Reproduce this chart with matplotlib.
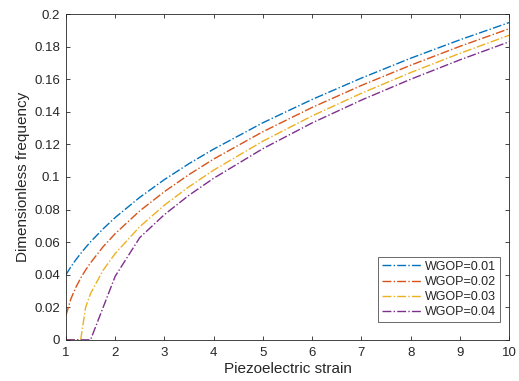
import matplotlib
matplotlib.use("Agg")
import matplotlib.pyplot as plt
from matplotlib.ticker import FuncFormatter

plt.rcParams['font.family'] = ['Liberation Sans', 'DejaVu Sans']

strain_full = [1, 1.1, 1.2, 1.3, 1.4, 1.5, 1.75, 2, 2.5, 3, 3.5, 4, 5, 6, 7, 8, 9, 10]
wgop001 = [0.040, 0.0448, 0.0491, 0.0530, 0.0567, 0.0602, 0.0680, 0.0751, 0.0875, 0.0984,
           0.1082, 0.1171, 0.1333, 0.1476, 0.1607, 0.1729, 0.1842, 0.1948]
wgop002 = [0.015, 0.0251, 0.0321, 0.0379, 0.0429, 0.0473, 0.0570, 0.0652, 0.0792, 0.0910,
           0.1015, 0.1110, 0.1278, 0.1427, 0.1562, 0.1686, 0.1802, 0.1910]
wgop003 = [0.0, 0.0, 0.0, 0.0, 0.0200, 0.0284, 0.0425, 0.0530, 0.0695, 0.0827,
           0.0940, 0.1042, 0.1220, 0.1375, 0.1514, 0.1641, 0.1759, 0.1870]
strain_p = [1, 1.5, 2, 2.5, 3, 3.5, 4, 5, 6, 7, 8, 9, 10]
wgop004 = [0.0, 0.0, 0.039, 0.0628, 0.0769, 0.0888, 0.0992, 0.1174, 0.1332, 0.1472,
           0.1600, 0.1719, 0.1830]

labels = ['WGOP=0.01', 'WGOP=0.02', 'WGOP=0.03', 'WGOP=0.04']
colors = ['#0072BD', '#D95319', '#EDB120', '#7E2F8E']

fig = plt.figure(figsize=(5.19, 3.81), dpi=100)
ax = fig.add_axes([0.127, 0.108, 0.854, 0.855])

series = [(strain_full, wgop001), (strain_full, wgop002), (strain_full, wgop003), (strain_p, wgop004)]
for (xs, ys), c, lab in zip(series, colors, labels):
    ax.plot(xs, ys, linestyle='-.', color=c, lw=1.0, label=lab)

ax.set_xlim(1, 10)
ax.set_ylim(0, 0.2)
ax.set_xticks(range(1, 11))
ax.set_yticks([0, 0.02, 0.04, 0.06, 0.08, 0.1, 0.12, 0.14, 0.16, 0.18, 0.2])
ax.yaxis.set_major_formatter(FuncFormatter(lambda v, p: ('%g' % round(v, 4))))
ax.tick_params(direction='in', top=True, right=True, length=3, width=0.6,
               labelsize=9.5, colors='#262626')
ax.tick_params(axis='x', pad=5)
ax.tick_params(axis='y', pad=4)
for s in ax.spines.values():
    s.set_color('#262626')
    s.set_linewidth(0.6)

ax.set_xlabel('Piezoelectric strain', fontsize=11, color='#262626', labelpad=2)
ax.set_ylabel('Dimensionless frequency', fontsize=11, color='#262626', labelpad=3)

leg = ax.legend(loc='lower right', bbox_to_anchor=(0.98, 0.055), fontsize=9,
                frameon=True, fancybox=False, edgecolor='#262626',
                handlelength=3.2, handletextpad=0.3, borderpad=0.3,
                labelspacing=0.25, borderaxespad=0.0)
leg.get_frame().set_linewidth(0.6)
for t in leg.get_texts():
    t.set_color('#262626')

fig.savefig('out.png', dpi=100)
